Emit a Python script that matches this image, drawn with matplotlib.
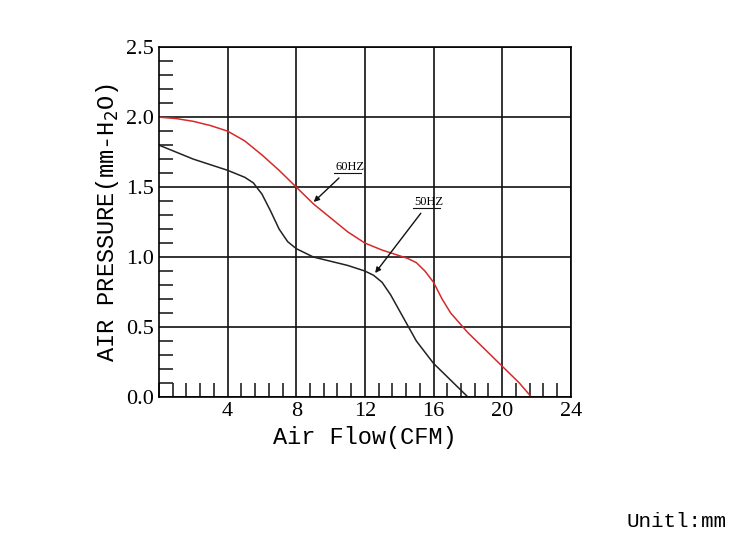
import matplotlib
matplotlib.use("Agg")
import matplotlib.pyplot as plt
from matplotlib.ticker import MultipleLocator

x60 = [0, 1, 2, 3, 4, 5, 6, 7, 8, 9, 10, 11, 12, 13, 14, 14.5, 15, 15.5, 16, 16.5, 17, 18, 19, 20, 21, 21.7]
y60 = [2.0, 1.99, 1.97, 1.94, 1.9, 1.83, 1.73, 1.62, 1.5, 1.38, 1.28, 1.18, 1.1, 1.05, 1.01, 0.99, 0.96, 0.9, 0.82, 0.7, 0.6, 0.46, 0.34, 0.22, 0.1, 0.0]
x50 = [0, 1, 2, 3, 4, 5, 5.5, 6, 6.5, 7, 7.5, 8, 9, 10, 11, 12, 12.5, 13, 13.5, 14, 14.5, 15, 16, 17, 18]
y50 = [1.8, 1.75, 1.7, 1.66, 1.62, 1.57, 1.53, 1.45, 1.33, 1.2, 1.11, 1.06, 1.0, 0.97, 0.94, 0.9, 0.87, 0.82, 0.73, 0.62, 0.51, 0.4, 0.24, 0.12, 0.0]
xticks = [4, 8, 12, 16, 20, 24]
yticks = [0.0, 0.5, 1.0, 1.5, 2.0, 2.5]

plt.rcParams['font.family'] = ['Liberation Serif', 'DejaVu Serif']
fig = plt.figure(figsize=(7.5, 5.49), dpi=100)
ax = fig.add_axes([0.212, 0.277, 0.549, 0.637])
ax.plot(x60, y60, color='#d42a2a', lw=1.1)
ax.plot(x50, y50, color='#222222', lw=1.1)
ax.set_xlim(0, 24); ax.set_ylim(0, 2.5)
ax.set_xticks(xticks); ax.set_yticks(yticks)
ax.set_yticklabels(['%.1f' % v for v in yticks])
ax.xaxis.set_minor_locator(MultipleLocator(0.8))
ax.yaxis.set_minor_locator(MultipleLocator(0.1))
ax.tick_params(which='major', direction='in', length=0, labelsize=16)
ax.tick_params(which='minor', direction='in', length=10, width=1.2, color='#222')
ax.grid(True, which='major', color='#111', lw=1.2)
for s in ax.spines.values():
    s.set_linewidth(1.2)
ax.set_xlabel('Air Flow(CFM)', fontsize=17, family='Liberation Mono')
ax.set_ylabel('AIR PRESSURE(mm-H$_2$O)', fontsize=17, family='Liberation Mono')
ax.annotate('60HZ', xy=(8.9, 1.38), xytext=(10.3, 1.62), fontsize=9,
            arrowprops=dict(arrowstyle='-|>', color='#111', lw=1, mutation_scale=8))
ax.annotate('50HZ', xy=(12.5, 0.87), xytext=(14.9, 1.37), fontsize=9,
            arrowprops=dict(arrowstyle='-|>', color='#111', lw=1, mutation_scale=8))
ax.plot([10.2, 11.8], [1.6, 1.6], color='#111', lw=0.8)
ax.plot([14.8, 16.4], [1.35, 1.35], color='#111', lw=0.8)
fig.text(0.835, 0.04, 'Unitl:mm', fontsize=15, family='Liberation Mono')
fig.savefig('out.png')
